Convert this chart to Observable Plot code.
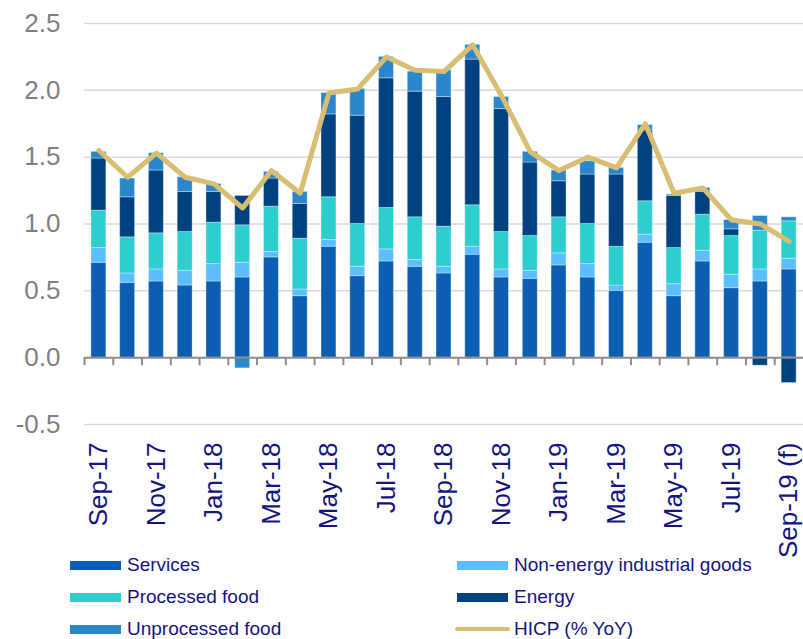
<!DOCTYPE html>
<html>
<head>
<meta charset="utf-8">
<script src="https://cdn.jsdelivr.net/npm/d3@7"></script>
<script src="https://cdn.jsdelivr.net/npm/@observablehq/plot@0.6"></script>
<style>
  body { margin: 0; background: #fff; font-family: "Liberation Sans", Arial, sans-serif; }
  #wrap { position: relative; width: 803px; height: 639px; overflow: hidden; }
  #wrap svg { position: absolute; left: 0; top: 0; }
  .leg { position: absolute; display: flex; align-items: center; font-size: 19px; color: #141480; white-space: nowrap; }
  .sw { width: 51px; height: 9px; margin-right: 6px; }
  .swl { width: 55px; height: 4px; border-radius: 2px; margin-right: 4px; }
</style>
</head>
<body>
<div id="wrap"></div>
<script>
const months = ["Sep-17","Oct-17","Nov-17","Dec-17","Jan-18","Feb-18","Mar-18","Apr-18","May-18","Jun-18","Jul-18","Aug-18","Sep-18","Oct-18","Nov-18","Dec-18","Jan-19","Feb-19","Mar-19","Apr-19","May-19","Jun-19","Jul-19","Aug-19","Sep-19 (f)"];
const labeledMonths = months.filter((d, i) => i % 2 === 0);

const seriesNames = ["Services","Non-energy industrial goods","Processed food","Energy","Unprocessed food"];
const seriesColors = ["#0B5EB2","#5BBEFF","#2DCECD","#004280","#2A87CC"];

const services   = [0.71,0.56,0.57,0.54,0.57,0.60,0.75,0.46,0.83,0.61,0.72,0.68,0.63,0.77,0.60,0.59,0.69,0.60,0.50,0.86,0.46,0.72,0.52,0.57,0.66];
const nonEnergy  = [0.11,0.07,0.09,0.11,0.13,0.11,0.04,0.05,0.05,0.07,0.09,0.05,0.05,0.06,0.06,0.06,0.09,0.10,0.04,0.06,0.09,0.08,0.10,0.09,0.08];
const processed  = [0.28,0.27,0.27,0.29,0.31,0.28,0.34,0.38,0.32,0.32,0.31,0.32,0.30,0.31,0.28,0.26,0.27,0.30,0.29,0.25,0.27,0.27,0.29,0.29,0.28];
const energy     = [0.39,0.30,0.47,0.30,0.23,0.22,0.21,0.26,0.62,0.81,0.97,0.94,0.97,1.09,0.92,0.55,0.27,0.37,0.54,0.53,0.39,0.17,0.05,-0.06,-0.19];
const unprocessed= [0.05,0.14,0.13,0.11,0.06,-0.08,0.05,0.09,0.16,0.20,0.16,0.15,0.20,0.11,0.09,0.08,0.08,0.10,0.05,0.04,0.01,0.03,0.07,0.11,0.03];
const hicp       = [1.55,1.35,1.53,1.35,1.30,1.12,1.40,1.23,1.98,2.01,2.25,2.15,2.14,2.34,1.96,1.54,1.40,1.50,1.42,1.75,1.23,1.27,1.03,1.00,0.87];

const yTicks = [-0.5,0,0.5,1.0,1.5,2.0,2.5];
const yGrid = yTicks.filter(d => d !== 0);

const seriesValues = [services, nonEnergy, processed, energy, unprocessed];
const rows = [];
months.forEach((m, i) => {
  seriesNames.forEach((s, k) => rows.push({month: m, series: s, value: seriesValues[k][i]}));
});

const W = 803, H = 566, ML = 84, MR = 0;
const step = (W - ML - MR) / months.length;

const chart = Plot.plot({
  width: W, height: H,
  marginLeft: ML, marginRight: MR, marginTop: 23, marginBottom: 142,
  style: {fontFamily: "'Liberation Sans', Arial, sans-serif", background: "transparent"},
  x: {type: "band", domain: months, paddingInner: 0.48, paddingOuter: 0.24, round: false, axis: null},
  y: {domain: [-0.5, 2.5], axis: null},
  color: {domain: seriesNames, range: seriesColors},
  marks: [
    Plot.ruleY(yGrid, {stroke: "#d9d9d9", strokeWidth: 1.5}),
    Plot.barY(rows, Plot.stackY({x: "month", y: "value", fill: "series", order: seriesNames, stroke: "#ffffff", strokeOpacity: 0.35, strokeWidth: 1})),
    Plot.ruleY([0], {stroke: "#8c8c8c", strokeWidth: 2}),
    Plot.ruleX(months, {x: d => d, y1: 0, y2: 0, dx: -step / 2, insetBottom: -8, stroke: "#8c8c8c", strokeWidth: 2}),
    Plot.lineY(months.map((m, i) => ({month: m, v: hicp[i]})), {x: "month", y: "v", stroke: "#D8BE72", strokeWidth: 5, strokeLinejoin: "round", strokeLinecap: "round"}),
    Plot.axisY({ticks: yTicks, tickSize: 0, tickPadding: 24, tickFormat: d => d.toFixed(1), fontSize: 26, fill: "#7f7f7f", label: null}),
    Plot.axisX({ticks: labeledMonths, tickSize: 0, tickRotate: -90, tickPadding: 18, fontSize: 26, fill: "#141480", label: null})
  ]
});

const wrap = document.getElementById("wrap");
wrap.appendChild(chart);

const legendItems = [
  {name: "Services", color: seriesColors[0], x: 70, y: 565, line: false},
  {name: "Processed food", color: seriesColors[2], x: 70, y: 597, line: false},
  {name: "Unprocessed food", color: seriesColors[4], x: 70, y: 629, line: false},
  {name: "Non-energy industrial goods", color: seriesColors[1], x: 457, y: 565, line: false},
  {name: "Energy", color: seriesColors[3], x: 457, y: 597, line: false},
  {name: "HICP (% YoY)", color: "#D8BE72", x: 455, y: 629, line: true}
];
legendItems.forEach(it => {
  const d = document.createElement("div");
  d.className = "leg";
  d.style.left = it.x + "px";
  d.style.top = (it.y - 12) + "px";
  d.style.height = "24px";
  const sw = document.createElement("span");
  sw.className = it.line ? "swl" : "sw";
  sw.style.background = it.color;
  const t = document.createElement("span");
  t.textContent = it.name;
  d.appendChild(sw); d.appendChild(t);
  wrap.appendChild(d);
});
</script>
</body>
</html>
